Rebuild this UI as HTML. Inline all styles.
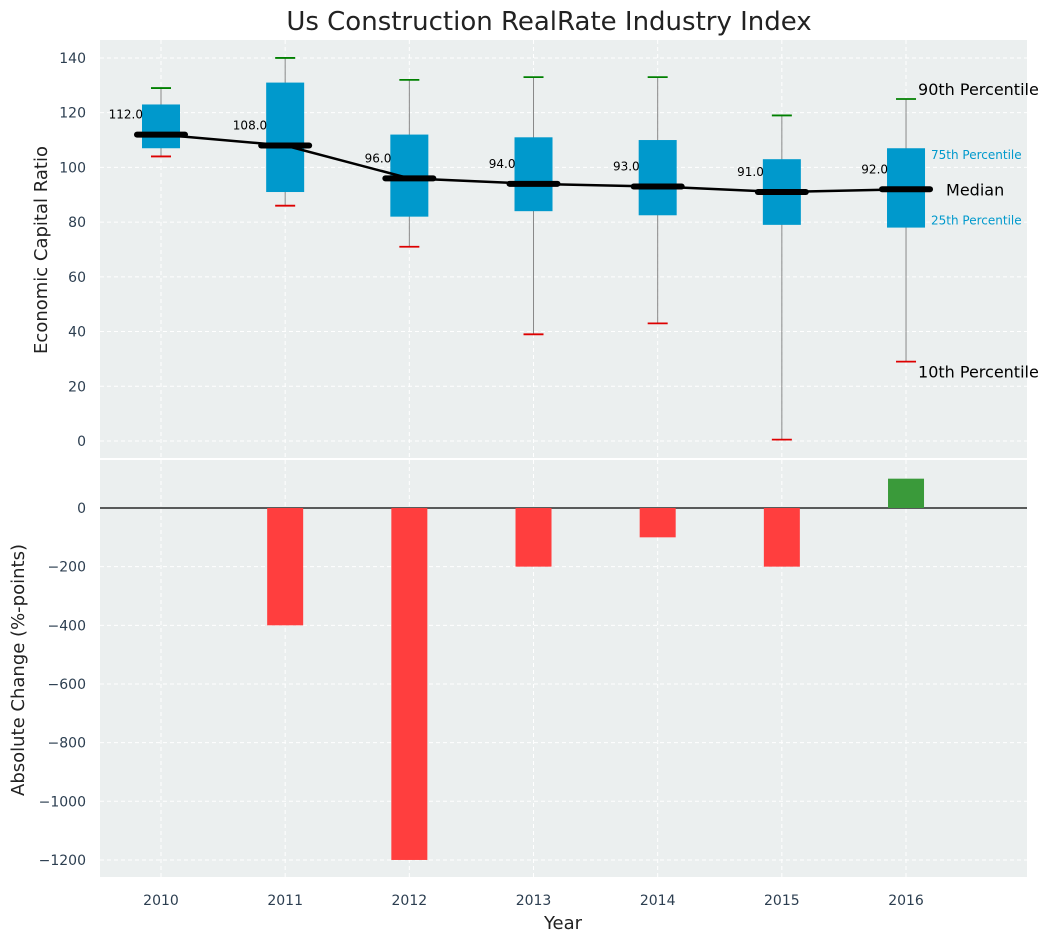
<!DOCTYPE html>
<html><head><meta charset="utf-8"><style>
body{margin:0;background:#fff;font-family:"Liberation Sans","DejaVu Sans",sans-serif;}
</style></head><body>
<svg id="chart" width="1053" height="942" xmlns="http://www.w3.org/2000/svg" font-family="DejaVu Sans, Liberation Sans, sans-serif">
<text x="549" y="30" font-size="26" text-anchor="middle" fill="#222">Us Construction RealRate Industry Index</text>
<rect x="100" y="40" width="927" height="418" fill="#ebefef"/>
<rect x="100" y="460" width="927" height="417" fill="#ebefef"/>
<g id="gtop"></g><g id="gbot"></g>
<text x="47" y="250" font-size="18" text-anchor="middle" transform="rotate(-90 47 250)" fill="#222">Economic Capital Ratio</text>
<text x="24" y="670" font-size="18" text-anchor="middle" transform="rotate(-90 24 670)" fill="#222">Absolute Change (%-points)</text>
<text x="563" y="929" font-size="18" text-anchor="middle" fill="#222">Year</text>
</svg>
<script>
const years=[2010,2011,2012,2013,2014,2015,2016];
const p10=[104,86,71,39,43,0.5,29];
const q1=[107,91,82,84,82.5,79,78];
const med=[112,108,96,94,93,91,92];
const q3=[123,131,112,111,110,103,107];
const p90=[129,140,132,133,133,119,125];
const changes=[0,-400,-1200,-200,-100,-200,100];
const topTicks=[0,20,40,60,80,100,120,140];
const botTicks=[0,-200,-400,-600,-800,-1000,-1200];
const NS="http://www.w3.org/2000/svg";
const xs=i=>161+i*124.17;
const yt=v=>441-v*2.736;
const yb=v=>508-v*0.2933;
function mk(p,t,a){const e=document.createElementNS(NS,t);for(const k in a)e.setAttribute(k,a[k]);p.appendChild(e);return e;}
const gTop=document.getElementById('gtop'),gBot=document.getElementById('gbot');
topTicks.forEach(v=>{
 const g=mk(gTop,'line',{x1:100,x2:1027,y1:yt(v),y2:yt(v),stroke:'#fff','stroke-dasharray':'4,3','stroke-width':1});
 
 
 const t=mk(gTop,'text',{x:86,y:yt(v)+5,'font-size':14,'text-anchor':'end',fill:'#2c3e50'});t.textContent=v;
 
 
});
botTicks.forEach(v=>{
 const g=mk(gBot,'line',{x1:100,x2:1027,y1:yb(v),y2:yb(v),stroke:'#fff','stroke-dasharray':'4,3','stroke-width':1});
 
 
 const t=mk(gBot,'text',{x:86,y:yb(v)+5,'font-size':14,'text-anchor':'end',fill:'#2c3e50'});t.textContent=v===0?'0':'\u2212'+Math.abs(v);
 
 
});
years.forEach((y,i)=>{
 const x=xs(i);
 [[gTop,40,458],[gBot,460,877]].forEach(([p,a,b])=>{const l=mk(p,'line',{x1:x,x2:x,y1:a,y2:b,stroke:'#fff','stroke-dasharray':'4,3'});
 
 });
 const t=mk(gBot,'text',{x:x,y:905,'font-size':14,'text-anchor':'middle',fill:'#2c3e50'});t.textContent=y;
 
 
});
const zl=mk(gBot,'line',{x1:100,x2:1027,y1:yb(0),y2:yb(0),stroke:'#000','stroke-width':1.2});


years.forEach((y,i)=>{
 const x=xs(i);
 const w=mk(gTop,'line',{x1:x,x2:x,y1:yt(p10[i]),y2:yt(p90[i]),stroke:'#888','stroke-width':1});
 
 
 const b=mk(gTop,'rect',{x:x-19,y:yt(q3[i]),width:38,height:yt(q1[i])-yt(q3[i]),fill:'#0099cc'});
 
 
 const c1=mk(gTop,'line',{x1:x-10,x2:x+10,y1:yt(p90[i]),y2:yt(p90[i]),stroke:'green','stroke-width':1.8});
 
 
 const c2=mk(gTop,'line',{x1:x-10,x2:x+10,y1:yt(p10[i]),y2:yt(p10[i]),stroke:'#d00','stroke-width':1.8});
 
 
 const m=mk(gTop,'line',{x1:x-24,x2:x+24,y1:yt(med[i]),y2:yt(med[i]),stroke:'#000','stroke-width':6,'stroke-linecap':'round'});
 
 
 const t=mk(gTop,'text',{x:x-18,y:yt(med[i])-16,'font-size':12,'text-anchor':'end',fill:'#000'});t.textContent=med[i].toFixed(1);
 
 
 if(changes[i]!==0){
  const r=mk(gBot,'rect',{x:x-18,y:Math.min(yb(0),yb(changes[i])),width:36,height:Math.abs(yb(changes[i])-yb(0)),fill:changes[i]<0?'#ff3e3e':'#3a9a3a'});
  
  
 }
});
const pl=mk(gTop,'polyline',{points:years.map((y,i)=>xs(i)+','+yt(med[i])).join(' '),fill:'none',stroke:'#000','stroke-width':2.5});


const L=6,lx=xs(L);
[['90th Percentile',lx+12,yt(p90[L])-4,16,'#000'],['75th Percentile',lx+25,yt(q3[L])+11,12,'#0099cc'],['Median',lx+40,yt(med[L])+6,16,'#000'],['25th Percentile',lx+25,yt(q1[L])-3,12,'#0099cc'],['10th Percentile',lx+12,yt(p10[L])+16,16,'#000']].forEach(a=>{
 const t=mk(gTop,'text',{x:a[1],y:a[2],'font-size':a[3],fill:a[4]});t.textContent=a[0];
 
 
});
</script>
</body></html>
